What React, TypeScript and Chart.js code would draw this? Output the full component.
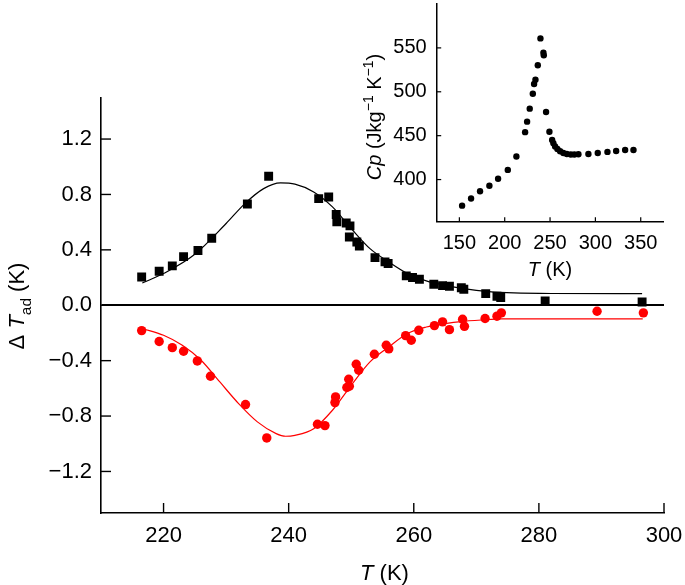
import React, { useEffect, useRef } from 'react';
import { Chart, registerables } from 'chart.js';
Chart.register(...registerables);

const FONT = '"Liberation Sans", Arial, Helvetica, sans-serif';

// ---- Main chart data (T in K, ΔT_ad in K) ----
const heatT = [216.5, 219.3, 221.4, 223.2, 225.5, 227.7, 233.4, 236.8, 244.8, 246.4, 247.6, 247.7, 249.2, 249.8, 249.7, 250.9, 251.3, 253.8, 255.4, 255.9, 258.8, 259.8, 260.9, 263.2, 264.6, 265.7, 267.6, 268.0, 271.5, 273.3, 273.9, 281.0, 296.5];
const heatDT = [0.204, 0.245, 0.284, 0.351, 0.395, 0.484, 0.731, 0.931, 0.770, 0.782, 0.655, 0.602, 0.594, 0.573, 0.493, 0.457, 0.428, 0.344, 0.313, 0.301, 0.212, 0.200, 0.188, 0.152, 0.142, 0.137, 0.126, 0.115, 0.084, 0.065, 0.056, 0.031, 0.024];
const heatFitT = [216.6, 220, 225, 230, 233, 236, 238.7, 241, 244, 247, 250, 253, 256, 259, 262, 265, 268, 272, 276, 282, 296.5];
const heatFitDT = [0.161, 0.229, 0.368, 0.59, 0.734, 0.842, 0.883, 0.874, 0.818, 0.71, 0.554, 0.409, 0.313, 0.229, 0.176, 0.144, 0.12, 0.099, 0.089, 0.085, 0.084];

const coolT = [216.5, 219.3, 221.4, 223.2, 225.4, 227.5, 233.1, 236.5, 244.6, 245.8, 247.4, 247.5, 249.3, 249.7, 249.6, 250.8, 251.2, 253.7, 255.6, 256.0, 258.7, 259.6, 260.8, 263.3, 264.6, 265.7, 267.8, 268.1, 271.4, 273.3, 274.0, 289.3, 296.7];
const coolDT = [-0.183, -0.262, -0.306, -0.332, -0.402, -0.513, -0.717, -0.958, -0.859, -0.869, -0.703, -0.662, -0.594, -0.585, -0.534, -0.426, -0.469, -0.354, -0.289, -0.315, -0.219, -0.253, -0.181, -0.147, -0.12, -0.176, -0.101, -0.152, -0.096, -0.079, -0.055, -0.043, -0.055];
const coolFitT = [216.6, 220, 223, 226, 229, 232, 235, 238, 239.5, 241, 244, 247, 250, 253, 256, 259, 262, 265, 268, 272, 274, 296.6];
const coolFitDT = [-0.168, -0.217, -0.289, -0.397, -0.554, -0.71, -0.842, -0.927, -0.946, -0.939, -0.891, -0.758, -0.578, -0.409, -0.301, -0.204, -0.157, -0.132, -0.116, -0.103, -0.099, -0.099];

const mainXTicks = [220, 230, 240, 250, 260, 270, 280, 290, 300];
const mainXLabels = [220, 240, 260, 280, 300];
const mainYTicks = [-1.4, -1.2, -1.0, -0.8, -0.6, -0.4, -0.2, 0, 0.2, 0.4, 0.6, 0.8, 1.0, 1.2, 1.4];
const mainYLabels = [-1.2, -0.8, -0.4, 0, 0.4, 0.8, 1.2];

// ---- Inset data (T in K, Cp in J kg-1 K-1) ----
const cpT = [153, 162.9, 172.8, 183.1, 192.7, 203.4, 212.9, 222.5, 224.7, 227.6, 231, 232.4, 233.9, 236.5, 239.4, 242.7, 243.1, 245.6, 249.3, 252.3, 253.7, 255.6, 258.1, 261.1, 264.7, 268.5, 272.9, 276.8, 281.3, 292.3, 302.6, 313.3, 322.9, 332.8, 342];
const cpVal = [370.3, 378.5, 386.7, 393, 401, 411, 426.3, 454, 466, 480.8, 497.8, 508.9, 513.7, 530.3, 560.8, 544.4, 541.5, 477, 454.4, 445.2, 441.5, 437.8, 434.8, 432.2, 430.3, 429.2, 428.5, 428.5, 428.9, 429.2, 430.3, 431.5, 432.6, 433.7, 433.7];
const insetXTicks = [150, 175, 200, 225, 250, 275, 300, 325, 350, 375];
const insetXLabels = [150, 200, 250, 300, 350];
const insetYTicks = [375, 400, 425, 450, 475, 500, 525, 550, 575];
const insetYLabels = [400, 450, 500, 550];

type Part = { t: string; it?: boolean; sub?: boolean; sup?: boolean };

function drawRich(ctx: CanvasRenderingContext2D, parts: Part[], cx: number, cy: number, size: number, rot: number) {
  ctx.save();
  ctx.translate(cx, cy);
  if (rot) ctx.rotate(rot);
  const fontOf = (p: Part) => `${p.it ? 'italic ' : ''}${p.sub || p.sup ? size * 0.7 : size}px ${FONT}`;
  let total = 0;
  const widths = parts.map((p) => {
    ctx.font = fontOf(p);
    const w = ctx.measureText(p.t).width;
    total += w;
    return w;
  });
  let x = -total / 2;
  ctx.textBaseline = 'alphabetic';
  ctx.textAlign = 'left';
  ctx.fillStyle = '#000';
  parts.forEach((p, i) => {
    ctx.font = fontOf(p);
    const dy = p.sub ? size * 0.3 : p.sup ? -size * 0.42 : 0;
    ctx.fillText(p.t, x, dy);
    x += widths[i];
  });
  ctx.restore();
}

const has = (arr: number[], v: number) => arr.some((a) => Math.abs(a - v) < 1e-6);
const fmt1 = (v: number) => (Math.abs(v) < 1e-9 ? '0.0' : (v < 0 ? '\u2212' : '') + Math.abs(v).toFixed(1));

function decorPlugin(cfg: {
  xMajor: number[]; yMajor: number[]; majorLen: number; minorLen: number; width: number;
  titles: (ctx: CanvasRenderingContext2D) => void;
}) {
  return {
    id: 'decor',
    afterDraw(chart: any) {
      const ctx = chart.ctx as CanvasRenderingContext2D;
      const xs = chart.scales.x;
      const ys = chart.scales.y;
      const area = chart.chartArea;
      ctx.save();
      ctx.strokeStyle = '#000';
      ctx.lineWidth = cfg.width;
      xs.ticks.forEach((t: any) => {
        const px = xs.getPixelForValue(t.value);
        const len = has(cfg.xMajor, t.value) ? cfg.majorLen : cfg.minorLen;
        ctx.beginPath();
        ctx.moveTo(px, area.bottom);
        ctx.lineTo(px, area.bottom - len);
        ctx.stroke();
      });
      ys.ticks.forEach((t: any) => {
        const py = ys.getPixelForValue(t.value);
        const len = has(cfg.yMajor, t.value) ? cfg.majorLen : cfg.minorLen;
        ctx.beginPath();
        ctx.moveTo(area.left, py);
        ctx.lineTo(area.left + len, py);
        ctx.stroke();
      });
      ctx.restore();
      cfg.titles(ctx);
    },
  };
}

function fixedAxis(size: number, horizontal: boolean) {
  return (scale: any) => {
    if (horizontal) scale.height = size;
    else scale.width = size;
    scale.paddingTop = 0;
    scale.paddingBottom = 0;
    scale.paddingLeft = 0;
    scale.paddingRight = 0;
  };
}

function MainChart() {
  const ref = useRef<HTMLCanvasElement>(null);
  useEffect(() => {
    const pts = (xs: number[], ys: number[]) => xs.map((x, i) => ({ x, y: ys[i] }));
    const chart = new Chart(ref.current!, {
      type: 'scatter',
      data: {
        datasets: [
          {
            data: pts(heatFitT, heatFitDT), showLine: true, borderColor: '#000', borderWidth: 1.2,
            pointRadius: 0, cubicInterpolationMode: 'monotone', fill: false,
          } as any,
          {
            data: pts(coolFitT, coolFitDT), showLine: true, borderColor: '#ff0000', borderWidth: 1.2,
            pointRadius: 0, cubicInterpolationMode: 'monotone', fill: false,
          } as any,
          {
            data: pts(heatT, heatDT), pointStyle: 'rect', pointRadius: 6.3, backgroundColor: '#000',
            borderWidth: 0, showLine: false,
          },
          {
            data: pts(coolT, coolDT), pointStyle: 'circle', pointRadius: 4.7, backgroundColor: '#ff0000',
            borderWidth: 0, showLine: false,
          },
        ],
      },
      options: {
        animation: false,
        responsive: false,
        devicePixelRatio: 1,
        layout: { padding: { top: 97.5, right: 21, left: 0, bottom: 0 } },
        plugins: { legend: { display: false }, tooltip: { enabled: false } },
        scales: {
          x: {
            type: 'linear', min: 210, max: 300,
            afterBuildTicks: (s: any) => { s.ticks = mainXTicks.map((v) => ({ value: v })); },
            afterFit: fixedAxis(72, true),
            grid: { display: false, drawTicks: false },
            border: { display: true, color: '#000', width: 1.6 },
            ticks: {
              autoSkip: false, maxRotation: 0, padding: 10, color: '#000',
              font: { family: FONT, size: 22 },
              callback: (v: any) => (has(mainXLabels, Number(v)) ? String(v) : null),
            },
          },
          y: {
            type: 'linear', min: -1.5, max: 1.5,
            afterBuildTicks: (s: any) => { s.ticks = mainYTicks.map((v) => ({ value: v })); },
            afterFit: fixedAxis(101, false),
            grid: {
              display: true, drawTicks: false, lineWidth: 2,
              color: (c: any) => (c.tick && Math.abs(c.tick.value) < 1e-9 ? '#000' : 'rgba(0,0,0,0)'),
            },
            border: { display: true, color: '#000', width: 1.6 },
            ticks: {
              autoSkip: false, padding: 9, color: '#000',
              font: { family: FONT, size: 22 },
              callback: (v: any) => (has(mainYLabels, Number(v)) ? fmt1(Number(v)) : null),
            },
          },
        },
      },
      plugins: [
        decorPlugin({
          xMajor: mainXLabels, yMajor: mainYLabels, majorLen: 10, minorLen: 6, width: 1.4,
          titles: (ctx) => {
            drawRich(ctx, [{ t: 'T', it: true }, { t: ' (K)' }], 384.5, 580, 22, 0);
            drawRich(ctx, [{ t: '\u0394 ' }, { t: 'T', it: true }, { t: 'ad', sub: true }, { t: ' (K)' }], 24, 306, 22, -Math.PI / 2);
          },
        }) as any,
      ],
    });
    return () => chart.destroy();
  }, []);
  return <canvas ref={ref} width={685} height={585} style={{ position: 'absolute', left: 0, top: 0 }} />;
}

function InsetChart() {
  const ref = useRef<HTMLCanvasElement>(null);
  useEffect(() => {
    const chart = new Chart(ref.current!, {
      type: 'scatter',
      data: {
        datasets: [
          {
            data: cpT.map((x, i) => ({ x, y: cpVal[i] })), pointStyle: 'circle', pointRadius: 3.2,
            backgroundColor: '#000', borderWidth: 0,
          },
        ],
      },
      options: {
        animation: false,
        responsive: false,
        devicePixelRatio: 1,
        layout: { padding: { top: 0, right: 21.6, left: 0, bottom: 0 } },
        plugins: { legend: { display: false }, tooltip: { enabled: false } },
        scales: {
          x: {
            type: 'linear', min: 125, max: 375,
            afterBuildTicks: (s: any) => { s.ticks = insetXTicks.map((v) => ({ value: v })); },
            afterFit: fixedAxis(68.3, true),
            grid: { display: false, drawTicks: false },
            border: { display: true, color: '#000', width: 1.5 },
            ticks: {
              autoSkip: false, maxRotation: 0, padding: 10, color: '#000',
              font: { family: FONT, size: 20 },
              callback: (v: any) => (has(insetXLabels, Number(v)) ? String(v) : null),
            },
          },
          y: {
            type: 'linear', min: 352, max: 600,
            afterBuildTicks: (s: any) => { s.ticks = insetYTicks.map((v) => ({ value: v })); },
            afterFit: fixedAxis(76.7, false),
            grid: { display: false, drawTicks: false },
            border: { display: true, color: '#000', width: 1.5 },
            ticks: {
              autoSkip: false, padding: 10, color: '#000',
              font: { family: FONT, size: 20 },
              callback: (v: any) => (has(insetYLabels, Number(v)) ? String(v) : null),
            },
          },
        },
      },
      plugins: [
        decorPlugin({
          xMajor: insetXLabels, yMajor: insetYLabels, majorLen: 4.5, minorLen: 3, width: 1.2,
          titles: (ctx) => {
            drawRich(ctx, [{ t: 'T', it: true }, { t: ' (K)' }], 190, 276, 20, 0);
            drawRich(
              ctx,
              [{ t: 'Cp', it: true }, { t: ' (Jkg' }, { t: '\u22121', sup: true }, { t: ' K' }, { t: '\u22121', sup: true }, { t: ')' }],
              21, 117, 20, -Math.PI / 2,
            );
          },
        }) as any,
      ],
    });
    return () => chart.destroy();
  }, []);
  return <canvas ref={ref} width={325} height={290} style={{ position: 'absolute', left: 360, top: 0 }} />;
}

export default function App() {
  return (
    <div style={{ position: 'absolute', left: 0, top: 0, width: 685, height: 585, background: '#fff' }}>
      <MainChart />
      <InsetChart />
    </div>
  );
}
